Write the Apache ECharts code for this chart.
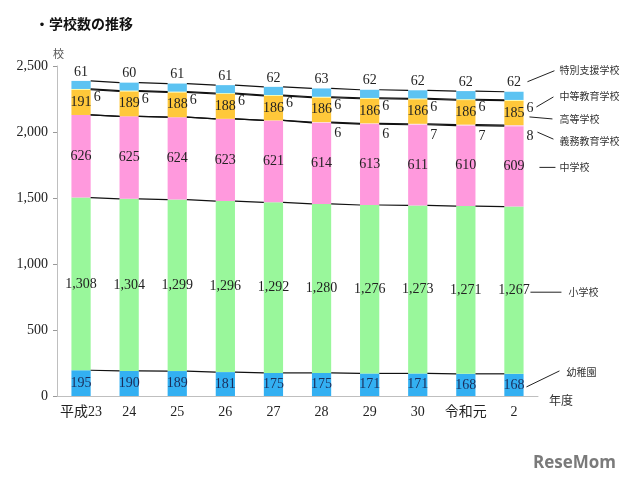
<!DOCTYPE html>
<html>
<head>
<meta charset="utf-8">
<script src="https://cdn.jsdelivr.net/npm/echarts@6/dist/echarts.min.js"></script>
<style>
  html, body { margin: 0; padding: 0; background: #fff; }
  #main { width: 640px; height: 483px; }
</style>
</head>
<body>
<div id="main"></div>
<script>
// 年度
const years = ['平成23', '24', '25', '26', '27', '28', '29', '30', '令和元', '2'];

// 学校数（下から順に積み上げ）
const kinder = [195, 190, 189, 181, 175, 175, 171, 171, 168, 168];
const elementary = [1308, 1304, 1299, 1296, 1292, 1280, 1276, 1273, 1271, 1267];
const junior = [626, 625, 624, 623, 621, 614, 613, 611, 610, 609];
const compulsory = [0, 0, 0, 0, 0, 6, 6, 7, 7, 8];
const high = [191, 189, 188, 188, 186, 186, 186, 186, 186, 185];
const secondary = [6, 6, 6, 6, 6, 6, 6, 6, 6, 6];
const special = [61, 60, 61, 61, 62, 63, 62, 62, 62, 62];

const yTicks = [0, 500, 1000, 1500, 2000, 2500];

const layers = [
  { name: '幼稚園', data: kinder, color: '#33b0f2' },
  { name: '小学校', data: elementary, color: '#99f79b' },
  { name: '中学校', data: junior, color: '#ff99dd' },
  { name: '義務教育学校', data: compulsory, color: '#ffd0e8' },
  { name: '高等学校', data: high, color: '#ffc83a' },
  { name: '中等教育学校', data: secondary, color: '#ffffa0' },
  { name: '特別支援学校', data: special, color: '#5cc3f2' }
];

const numFont = "'Liberation Serif', 'Noto Sans CJK JP', serif";
const jpFont = "'Noto Sans CJK JP', sans-serif";
const fmt = v => v.toLocaleString('en-US');

// 積み上げの境界値
const tops = [];
let run = years.map(() => 0);
layers.forEach(l => {
  run = run.map((v, i) => v + l.data[i]);
  tops.push(run.slice());
});

// 区分線（棒の右端から次の棒の左端へ）
const seriesLines = [];
tops.forEach(t => {
  for (let i = 0; i < years.length - 1; i++) {
    seriesLines.push([i, t[i], t[i + 1]]);
  }
});

function labelFor(idx) {
  const base = { show: true, fontFamily: numFont, fontSize: 14, color: '#222',
    formatter: p => (p.value ? fmt(p.value) : '') };
  if (idx === 6) return Object.assign(base, { position: 'top', distance: 2 });
  if (idx === 5) return Object.assign(base, { position: 'right', distance: 3, offset: [0, 8] });
  if (idx === 3) return Object.assign(base, { position: 'right', distance: 3, offset: [0, 11] });
  if (idx === 0) return Object.assign(base, { position: 'inside', color: '#1b2d5a' });
  return Object.assign(base, { position: 'inside' });
}

const chart = echarts.init(document.getElementById('main'));

const barSeries = layers.map((l, idx) => ({
  name: l.name,
  type: 'bar',
  stack: 'total',
  barWidth: '40%',
  data: l.data,
  itemStyle: { color: l.color },
  label: labelFor(idx),
  silent: true
}));

chart.setOption({
  animation: false,
  title: {
    text: '・学校数の推移',
    left: 30, top: 12,
    textStyle: { fontFamily: jpFont, fontSize: 14, fontWeight: 'bold', color: '#111' }
  },
  grid: { left: 57, right: 102, top: 66, bottom: 87 },
  xAxis: {
    type: 'category',
    data: years,
    axisLine: { lineStyle: { color: '#bfbfbf' } },
    axisTick: { inside: true, length: 3, lineStyle: { color: '#999' } },
    axisLabel: { interval: 0, fontFamily: numFont, fontSize: 14, color: '#222', margin: 9 }
  },
  yAxis: {
    type: 'value',
    min: 0, max: 2500, interval: 500,
    name: '校',
    nameLocation: 'end',
    nameGap: 6,
    nameTextStyle: { fontFamily: jpFont, fontSize: 11, color: '#555', align: 'left', padding: [0, 0, 0, -4] },
    axisLine: { show: true, lineStyle: { color: '#bfbfbf' } },
    axisTick: { show: true, length: 4, lineStyle: { color: '#999' } },
    splitLine: { show: false },
    axisLabel: {
      fontFamily: numFont, fontSize: 14, color: '#222', margin: 9,
      formatter: v => (yTicks.includes(v) ? fmt(v) : '')
    }
  },
  series: barSeries.concat([{
    type: 'custom',
    silent: true,
    z: 5,
    data: seriesLines,
    encode: { x: 0, y: 1 },
    renderItem: (params, api) => {
      const i = api.value(0);
      const p0 = api.coord([i, api.value(1)]);
      const p1 = api.coord([i + 1, api.value(2)]);
      const half = api.size([1, 0])[0] * 0.2;
      return {
        type: 'line',
        shape: { x1: p0[0] + half, y1: p0[1], x2: p1[0] - half, y2: p1[1] },
        style: { stroke: '#111', lineWidth: 1.2 }
      };
    }
  }])
});

// 右側の凡例（最後の棒に合わせて配置）
const last = years.length - 1;
const px = v => chart.convertToPixel({ xAxisIndex: 0, yAxisIndex: 0 }, [last, v]);
const xR = px(0)[0] + 9.5;
const yOf = v => px(v)[1];

const t = tops.map(a => a[last]);
const notes = [
  { text: '特別支援学校', a: yOf(t[6]), l: [4, -10, 31, -21], tx: 36, ty: -22 },
  { text: '中等教育学校', a: yOf(t[5]), l: [13, 7, 30, -3], tx: 36, ty: -4 },
  { text: '高等学校', a: yOf((t[3] + t[4]) / 2), l: [6, 4, 29, 6], tx: 36, ty: 6 },
  { text: '義務教育学校', a: yOf(t[3]), l: [14, 7, 30, 14], tx: 36, ty: 16 },
  { text: '中学校', a: yOf((t[1] + t[2]) / 2), l: [16, 1, 32, 1], tx: 36, ty: 1 },
  { text: '小学校', a: yOf((t[0] + t[1]) / 2), l: [7, 2, 38, 2], tx: 45, ty: 2 },
  { text: '幼稚園', a: yOf(t[0] / 2), l: [3, 2, 36, -14], tx: 43, ty: -13 }
];

const graphics = [];
notes.forEach(n => {
  graphics.push({
    type: 'line', silent: true,
    shape: { x1: xR + n.l[0], y1: n.a + n.l[1], x2: xR + n.l[2], y2: n.a + n.l[3] },
    style: { stroke: '#222', lineWidth: 1 }
  });
  graphics.push({
    type: 'text', silent: true,
    x: xR + n.tx, y: n.a + n.ty,
    style: { text: n.text, fontFamily: jpFont, fontSize: 10, fill: '#333', verticalAlign: 'middle' }
  });
});
graphics.push({
  type: 'text', silent: true, x: 549, y: 400,
  style: { text: '年度', fontFamily: jpFont, fontSize: 12, fill: '#333', verticalAlign: 'middle' }
});
graphics.push({
  type: 'text', silent: true, x: 533, y: 463,
  style: { text: 'ReseMom', fontFamily: "'Open Sans', sans-serif", fontSize: 17, fontWeight: 'bold', fill: '#7a7a7a', verticalAlign: 'middle' }
});
chart.setOption({ graphic: graphics });
</script>
</body>
</html>
